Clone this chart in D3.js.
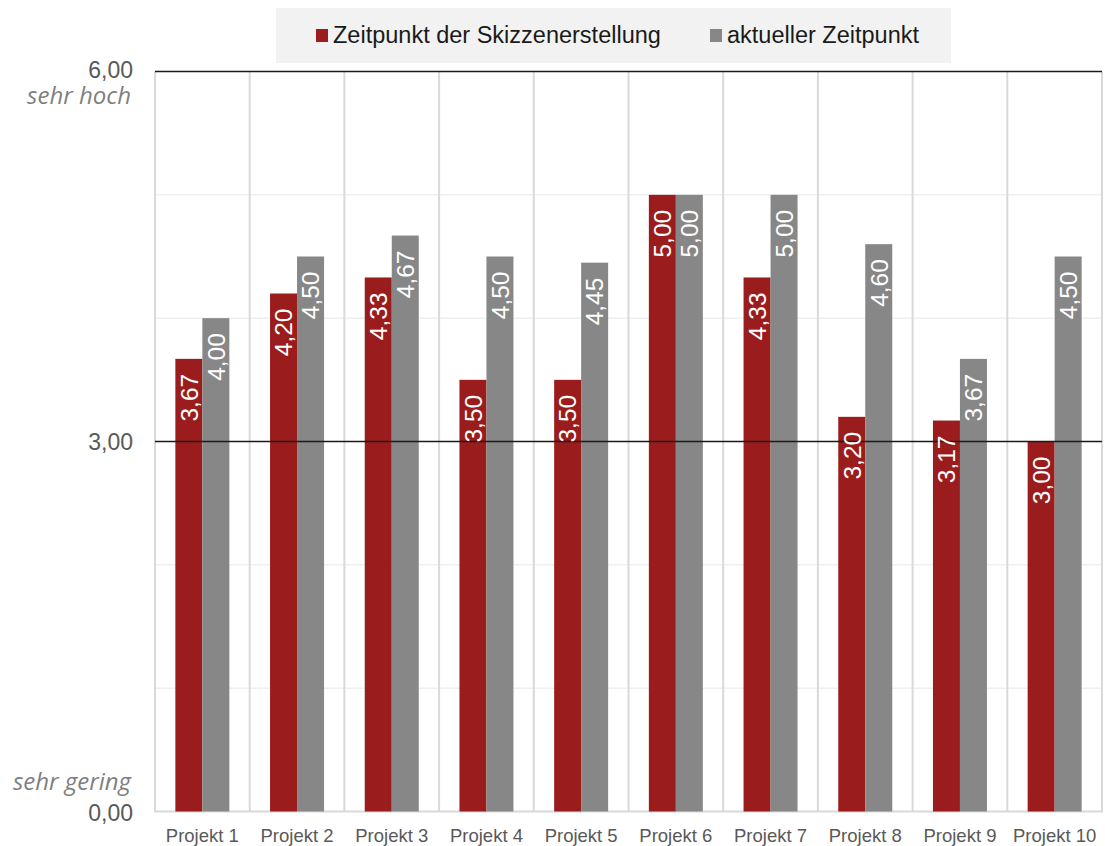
<!DOCTYPE html>
<html><head><meta charset="utf-8">
<script src="https://cdn.jsdelivr.net/npm/d3@7"></script>
<style>
html,body{margin:0;padding:0;background:#fff;}
svg{display:block;}
</style></head>
<body>
<svg id="chart" width="1105" height="846"></svg>
<script>
const categories = ["Projekt 1","Projekt 2","Projekt 3","Projekt 4","Projekt 5","Projekt 6","Projekt 7","Projekt 8","Projekt 9","Projekt 10"];
const seriesNames = ["Zeitpunkt der Skizzenerstellung","aktueller Zeitpunkt"];
const skizze = [3.67,4.20,4.33,3.50,3.50,5.00,4.33,3.20,3.17,3.00];
const aktuell = [4.00,4.50,4.67,4.50,4.45,5.00,5.00,4.60,3.67,4.50];
const majorTicks = [0,3,6];
const minorTicks = [1,2,4,5];
const scaleWords = [{v:6,t:"sehr hoch"},{v:0,t:"sehr gering"}];
const colors = ["#9b1c1c","#878787"];

(function(){
const fmt = v => v.toFixed(2).replace(".", ",");
const svg = d3.select("#chart");
const pL = 155, pR = 1102, pT = 71.5, pB = 811.5;
const sans = "'Liberation Sans', Arial, sans-serif";

const x = d3.scaleBand().domain(categories).range([pL, pR]).padding(0);
const y = d3.scaleLinear().domain([0,6]).range([pB, pT]);
const bw = x.bandwidth();
const barW = 27;
const xs = d3.scaleBand().domain(seriesNames).range([bw/2 - barW, bw/2 + barW]).padding(0);

// minor gridlines
svg.append("g").selectAll("line").data(minorTicks).join("line")
  .attr("x1", pL).attr("x2", pR)
  .attr("y1", d => y(d)).attr("y2", d => y(d))
  .attr("stroke", "#efefef").attr("stroke-width", 1.5);

// vertical separators
const seps = categories.map(c => x(c)).concat([pR]);
svg.append("g").selectAll("line").data(seps).join("line")
  .attr("x1", d => d).attr("x2", d => d)
  .attr("y1", pT).attr("y2", pB)
  .attr("stroke", "#d9d9d9").attr("stroke-width", 2);

// bottom axis line
svg.append("line").attr("x1", pL-1).attr("x2", pR+1)
  .attr("y1", pB).attr("y2", pB)
  .attr("stroke", "#d9d9d9").attr("stroke-width", 2);

// bars
const data = [];
categories.forEach((c,i) => {
  data.push({c, s: seriesNames[0], v: skizze[i], k: 0});
  data.push({c, s: seriesNames[1], v: aktuell[i], k: 1});
});
svg.append("g").selectAll("rect").data(data).join("rect")
  .attr("x", d => x(d.c) + xs(d.s))
  .attr("width", xs.bandwidth())
  .attr("y", d => y(d.v))
  .attr("height", d => y(0) - y(d.v))
  .attr("fill", d => colors[d.k]);

// black lines at 6 and 3
svg.append("g").selectAll("line").data([3,6]).join("line")
  .attr("x1", pL).attr("x2", pR)
  .attr("y1", d => y(d)).attr("y2", d => y(d))
  .attr("stroke", "#1a1a1a").attr("stroke-width", 1.5);

// value labels
svg.append("g").selectAll("text").data(data).join("text")
  .attr("transform", d => {
    const cx = x(d.c) + xs(d.s) + xs.bandwidth()/2 + 8.8;
    const ty = y(d.v) + 15;
    return `translate(${cx},${ty}) rotate(-90)`;
  })
  .attr("text-anchor", "end")
  .attr("font-family", sans)
  .attr("font-size", 24.5)
  .attr("fill", "#ffffff")
  .text(d => fmt(d.v));

// y tick labels
svg.append("g").selectAll("text").data(majorTicks).join("text")
  .attr("x", 133)
  .attr("y", d => d === 6 ? y(d) + 6.5 : d === 0 ? y(d) + 9.5 : y(d) + 8.5)
  .attr("text-anchor", "end")
  .attr("font-family", sans)
  .attr("font-size", 23)
  .attr("fill", "#595959")
  .text(d => fmt(d));

svg.append("g").selectAll("text").data(scaleWords).join("text")
  .attr("x", 131)
  .attr("y", d => d.v === 6 ? y(d.v) + 32 : y(d.v) - 22)
  .attr("text-anchor", "end")
  .attr("font-family", "'Open Sans', Lato, sans-serif")
  .attr("font-style", "italic")
  .attr("font-size", 24)
  .attr("fill", "#7f7f7f")
  .text(d => d.t);

// x labels
svg.append("g").selectAll("text").data(categories).join("text")
  .attr("x", d => x(d) + bw/2)
  .attr("y", 841.5)
  .attr("text-anchor", "middle")
  .attr("font-family", sans)
  .attr("font-size", 18.5)
  .attr("fill", "#595959")
  .text(d => d);

// legend
const lg = svg.append("g");
lg.append("rect").attr("x", 276).attr("y", 8).attr("width", 675).attr("height", 55).attr("fill", "#f2f2f2");
const legX = [316, 710];
seriesNames.forEach((s,i) => {
  lg.append("rect").attr("x", legX[i]).attr("y", 29).attr("width", 12).attr("height", 13).attr("fill", colors[i]);
  lg.append("text").attr("x", legX[i] + 17).attr("y", 42.5)
    .attr("font-family", sans)
    .attr("font-size", 23.5).attr("fill", "#1a1a1a").text(s);
});
})();
</script>
</body></html>
